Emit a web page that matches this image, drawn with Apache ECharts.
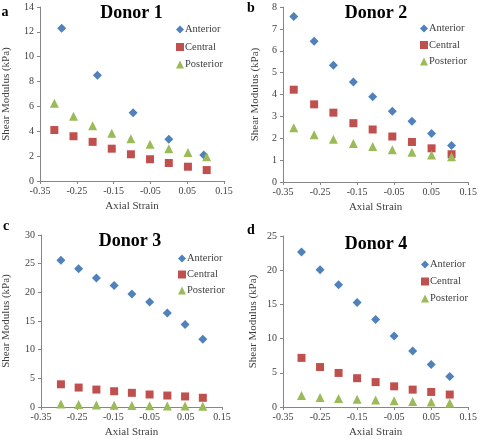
<!DOCTYPE html>
<html>
<head>
<meta charset="utf-8">
<script src="https://cdn.jsdelivr.net/npm/echarts@6/dist/echarts.min.js"></script>
<style>
html,body{margin:0;padding:0;background:#fff;}
#c{width:480px;height:439px;}
</style>
</head>
<body>
<div id="c"></div>
<script>
// ---- data ----
const seriesNames = ['Anterior', 'Central', 'Posterior'];
const panelTitles = ['Donor 1', 'Donor 2', 'Donor 3', 'Donor 4'];
const panelLetters = ['a', 'b', 'c', 'd'];
const xTicks = [-0.35, -0.25, -0.15, -0.05, 0.05, 0.15];
const yMaxA = 14, yStepA = 2;
const yMaxB = 8, yStepB = 1;
const yMaxC = 30, yStepC = 5;
const yMaxD = 25, yStepD = 5;

// Donor 1
const aStrainAnt = [-0.291, -0.194, -0.097, 0.0, 0.095];
const aAnt = [12.3, 8.5, 5.5, 3.35, 2.1];
const aStrain = [-0.311, -0.259, -0.207, -0.155, -0.103, -0.051, 0.0, 0.052, 0.103];
const aCen = [4.1, 3.6, 3.15, 2.6, 2.15, 1.75, 1.45, 1.15, 0.88];
const aPos = [6.25, 5.2, 4.45, 3.85, 3.4, 2.95, 2.6, 2.3, 1.95];

// Donor 2
const bStrain = [-0.321, -0.266, -0.214, -0.160, -0.108, -0.055, -0.002, 0.051, 0.105];
const bAnt = [7.57, 6.44, 5.34, 4.57, 3.9, 3.23, 2.78, 2.22, 1.67];
const bCen = [4.22, 3.55, 3.17, 2.69, 2.4, 2.08, 1.83, 1.54, 1.27];
const bPos = [2.48, 2.16, 1.96, 1.76, 1.62, 1.48, 1.36, 1.24, 1.15];

// Donor 3
const cStrain = [-0.295, -0.246, -0.197, -0.148, -0.099, -0.05, -0.001, 0.048, 0.097];
const cAnt = [25.6, 24.1, 22.5, 21.2, 19.7, 18.3, 16.4, 14.4, 11.8];
const cCen = [3.96, 3.39, 3.04, 2.75, 2.47, 2.18, 2.0, 1.84, 1.61];
const cPos = [0.52, 0.42, 0.36, 0.3, 0.25, 0.22, 0.18, 0.16, 0.12];

// Donor 4
const dStrain = [-0.3, -0.25, -0.2, -0.15, -0.1, -0.05, 0.0, 0.05, 0.1];
const dAnt = [22.65, 20.07, 17.86, 15.28, 12.79, 10.39, 8.19, 6.23, 4.45];
const dCen = [7.18, 5.84, 4.98, 4.21, 3.64, 3.02, 2.54, 2.2, 1.82];
const dPos = [1.68, 1.39, 1.25, 1.15, 1.01, 0.91, 0.81, 0.72, 0.57];

// ---- styling / layout ----
const FONT = '"Liberation Serif", "DejaVu Serif", serif';
const colors = ['#4F81BD', '#C0504D', '#9BBB59'];
const symbols = ['diamond', 'rect', 'triangle'];
const symSizes = [9, 8, 9];
const axisColor = '#868686';
const textColor = '#404040';

const grids = [
  {left: 38, top: 7, width: 186, height: 174},
  {left: 283, top: 7, width: 187, height: 175},
  {left: 38, top: 235, width: 184, height: 175},
  {left: 283, top: 236, width: 186, height: 174}
];
const yCfg = [[yMaxA, yStepA, 28], [yMaxB, yStepB, 22], [yMaxC, yStepC, 29], [yMaxD, yStepD, 24]];
const panelData = [
  [[aStrainAnt, aAnt], [aStrain, aCen], [aStrain, aPos]],
  [[bStrain, bAnt], [bStrain, bCen], [bStrain, bPos]],
  [[cStrain, cAnt], [cStrain, cCen], [cStrain, cPos]],
  [[dStrain, dAnt], [dStrain, dCen], [dStrain, dPos]]
];
const legendPos = [
  {left: 171, top: 19, gap: 6.5},
  {left: 415, top: 18, gap: 5.5},
  {left: 173, top: 248, gap: 5},
  {left: 416, top: 254, gap: 6}
];
const titlePos = [[131.5, 13.5], [376, 13.5], [130, 241.5], [376, 244]];
const letterPos = [[5, 12.5], [251, 8], [6, 226.5], [251, 230]];

const xAxes = [], yAxes = [], series = [], legends = [], graphics = [];
for (let p = 0; p < 4; p++) {
  xAxes.push({
    type: 'value', gridIndex: p, min: -0.35, max: 0.15,
    name: 'Axial Strain', nameLocation: 'middle', nameGap: 20,
    nameTextStyle: {fontFamily: FONT, fontSize: 11, color: textColor},
    axisLine: {show: true, onZero: false, lineStyle: {color: axisColor, width: 1}},
    axisTick: {show: true, length: 3, customValues: xTicks, lineStyle: {color: axisColor}},
    axisLabel: {customValues: xTicks, fontFamily: FONT, fontSize: 10, color: textColor, margin: 5,
      formatter: v => v.toFixed(2)},
    splitLine: {show: false}
  });
  yAxes.push({
    type: 'value', gridIndex: p, min: 0, max: yCfg[p][0], interval: yCfg[p][1],
    name: 'Shear Modulus (kPa)', nameLocation: 'middle', nameGap: yCfg[p][2], nameRotate: 90,
    nameTextStyle: {fontFamily: FONT, fontSize: 11, color: textColor},
    axisLine: {show: true, onZero: false, lineStyle: {color: axisColor, width: 1}},
    axisTick: {show: true, length: 3, lineStyle: {color: axisColor}},
    axisLabel: {fontFamily: FONT, fontSize: 10, color: textColor, margin: 6},
    splitLine: {show: false}
  });
  for (let s = 0; s < 3; s++) {
    const [xs, ys] = panelData[p][s];
    series.push({
      type: 'scatter', name: seriesNames[s], xAxisIndex: p, yAxisIndex: p,
      symbol: symbols[s], symbolSize: symSizes[s],
      itemStyle: {color: colors[s], opacity: 1},
      data: xs.map((x, i) => [x, ys[i]])
    });
  }
  legends.push({
    orient: 'vertical', left: legendPos[p].left, top: legendPos[p].top,
    itemGap: legendPos[p].gap, itemWidth: 8, itemHeight: 8,
    selectedMode: false,
    textStyle: {fontFamily: FONT, fontSize: 10.5, color: textColor, padding: [0, 0, 0, -4]},
    data: seriesNames.map((n, i) => ({name: n, icon: symbols[i],
      itemStyle: {color: colors[i]}}))
  });
  graphics.push({
    type: 'text', x: titlePos[p][0], y: titlePos[p][1],
    style: {text: panelTitles[p], font: 'bold 18px ' + FONT, fill: '#000',
      textAlign: 'center', textVerticalAlign: 'middle'}
  });
  graphics.push({
    type: 'text', x: letterPos[p][0], y: letterPos[p][1],
    style: {text: panelLetters[p], font: 'bold 14px ' + FONT, fill: '#000',
      textAlign: 'center', textVerticalAlign: 'middle'}
  });
}

const chart = echarts.init(document.getElementById('c'), null, {renderer: 'canvas'});
chart.setOption({
  animation: false,
  backgroundColor: '#fff',
  grid: grids,
  xAxis: xAxes,
  yAxis: yAxes,
  legend: legends,
  series: series,
  graphic: graphics
});
</script>
</body>
</html>
